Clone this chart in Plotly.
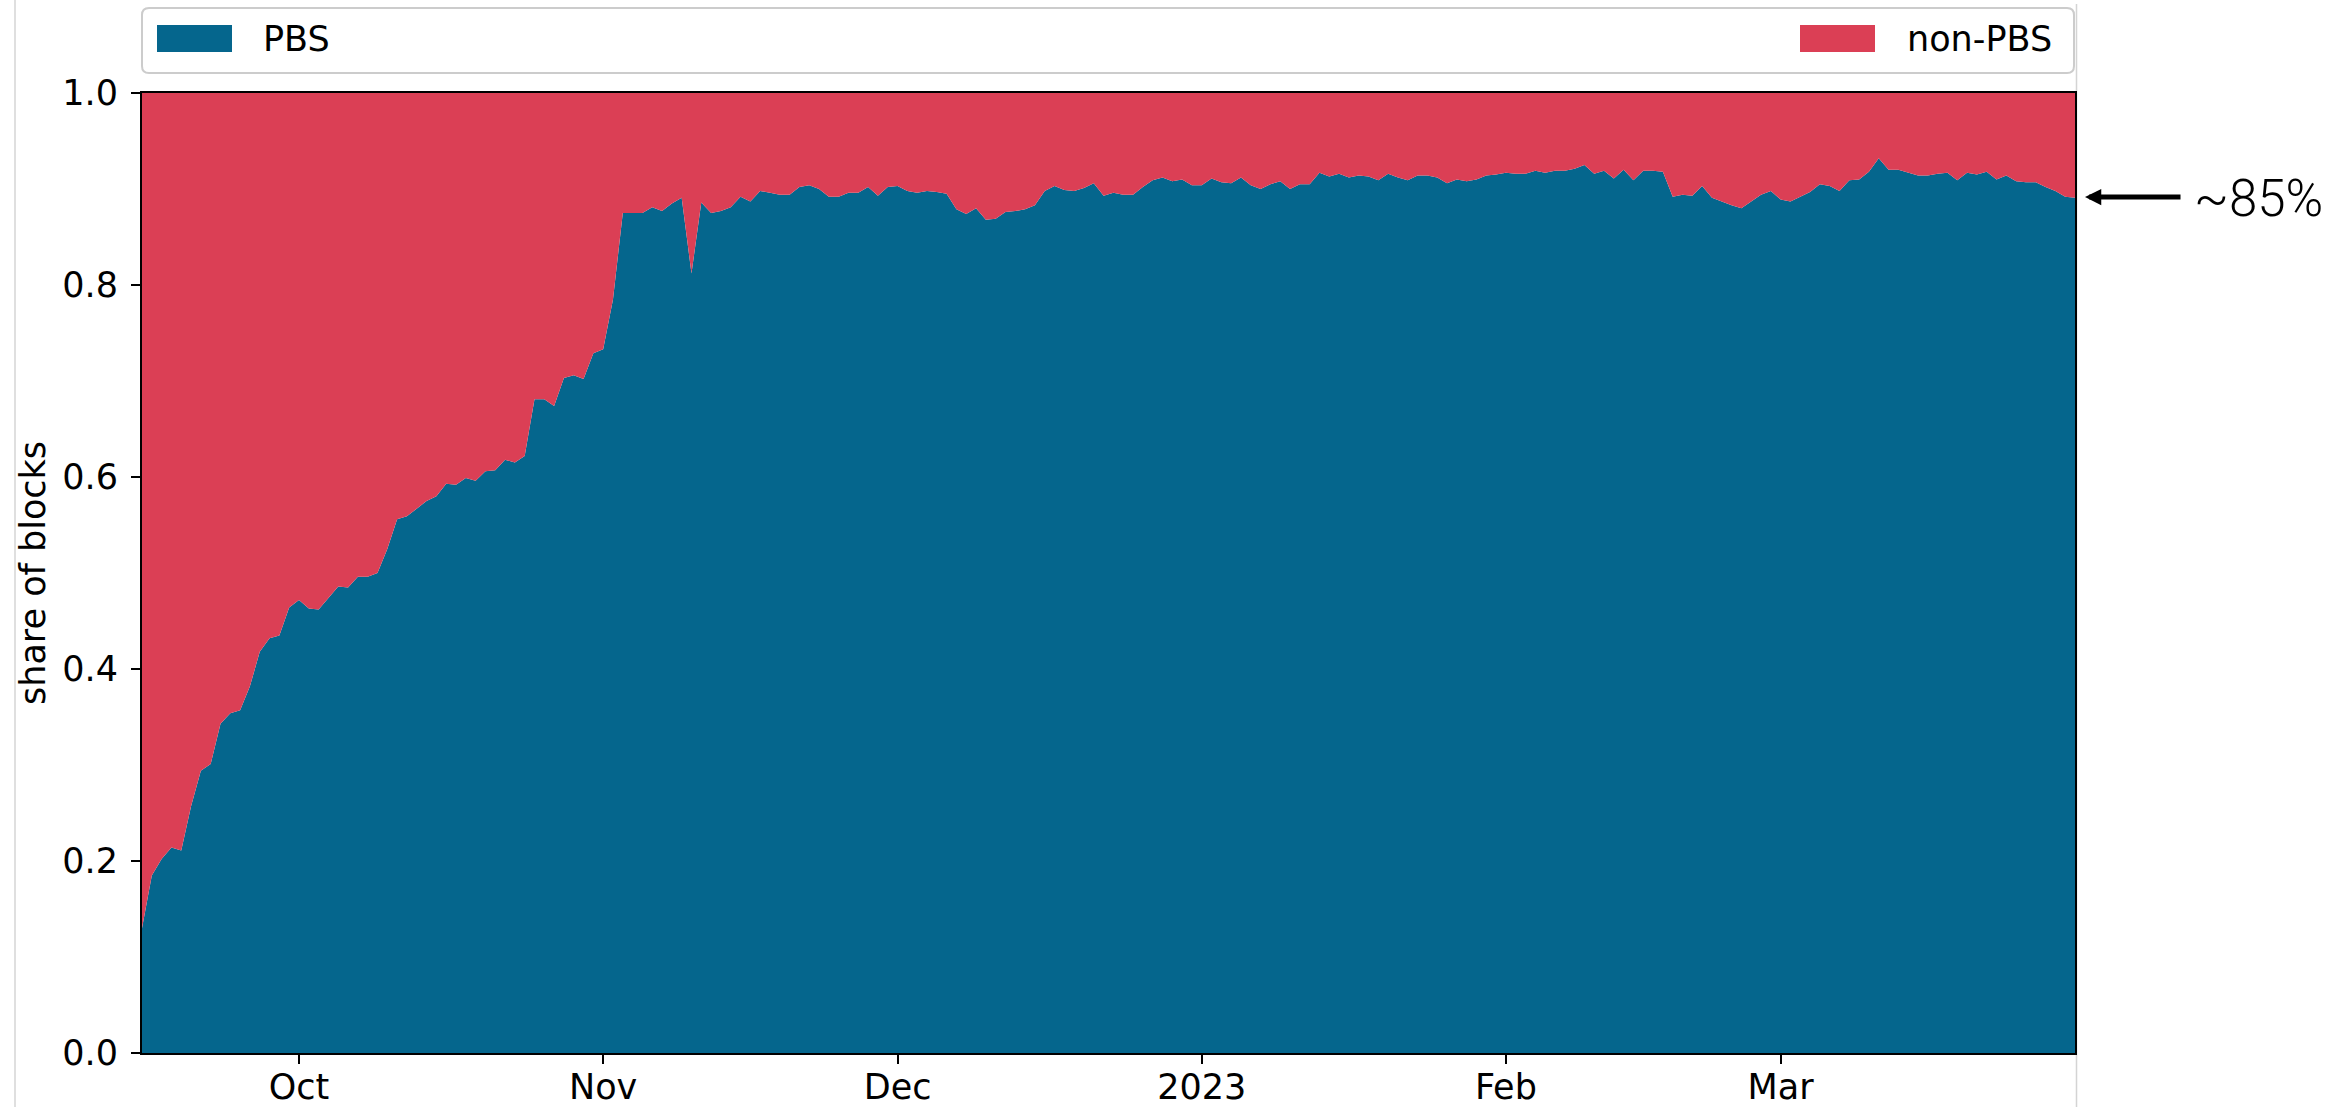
import datetime as dt
import plotly.graph_objects as go

# Daily share of blocks built through PBS (MEV-Boost relays), from the Merge onward
start_day = dt.date(2022, 9, 15)
pbs_share = [
    0.130, 0.185, 0.202, 0.214, 0.211, 0.257, 0.294, 0.301, 0.343, 0.354,
    0.357, 0.382, 0.418, 0.432, 0.435, 0.464, 0.472, 0.463, 0.462, 0.474,
    0.486, 0.485, 0.496, 0.496, 0.500, 0.525, 0.556, 0.559, 0.567, 0.575,
    0.580, 0.593, 0.592, 0.599, 0.596, 0.606, 0.607, 0.618, 0.615, 0.622,
    0.681, 0.681, 0.674, 0.703, 0.706, 0.702, 0.729, 0.733, 0.785, 0.875,
    0.875, 0.875, 0.881, 0.877, 0.885, 0.891, 0.812, 0.886, 0.875, 0.877,
    0.881, 0.892, 0.887, 0.898, 0.896, 0.894, 0.894, 0.902, 0.904, 0.900,
    0.892, 0.892, 0.896, 0.896, 0.902, 0.893, 0.902, 0.903, 0.898, 0.896,
    0.898, 0.897, 0.895, 0.879, 0.874, 0.880, 0.868, 0.869, 0.876, 0.877,
    0.879, 0.883, 0.898, 0.903, 0.899, 0.898, 0.901, 0.906, 0.893, 0.896,
    0.894, 0.894, 0.902, 0.909, 0.912, 0.908, 0.910, 0.904, 0.904, 0.911,
    0.907, 0.906, 0.912, 0.904, 0.900, 0.905, 0.908, 0.900, 0.905, 0.905,
    0.917, 0.913, 0.916, 0.912, 0.914, 0.913, 0.909, 0.916, 0.912, 0.909,
    0.914, 0.914, 0.912, 0.906, 0.910, 0.908, 0.910, 0.914, 0.915, 0.917,
    0.916, 0.916, 0.919, 0.917, 0.919, 0.919, 0.921, 0.925, 0.916, 0.919,
    0.911, 0.920, 0.909, 0.919, 0.919, 0.918, 0.892, 0.894, 0.893, 0.903,
    0.891, 0.887, 0.883, 0.880, 0.887, 0.894, 0.898, 0.889, 0.887, 0.892,
    0.897, 0.905, 0.903, 0.898, 0.909, 0.910, 0.918, 0.932, 0.920, 0.920,
    0.917, 0.914, 0.914, 0.916, 0.917, 0.909, 0.917, 0.915, 0.918, 0.910,
    0.914, 0.908, 0.907, 0.907, 0.902, 0.898, 0.892, 0.891,
]
days = [start_day + dt.timedelta(days=i) for i in range(len(pbs_share))]
non_pbs_share = [round(1.0 - v, 3) for v in pbs_share]

month_ticks = ["2022-10-01", "2022-11-01", "2022-12-01", "2023-01-01", "2023-02-01", "2023-03-01"]
month_labels = ["Oct", "Nov", "Dec", "2023", "Feb", "Mar"]
y_ticks = [0.0, 0.2, 0.4, 0.6, 0.8, 1.0]

series_names = ["PBS", "non-PBS"]
series_colors = ["#05668D", "#DB3F55"]
callout_text = "~85%"

W, H = 2336, 1107
M_L, M_R, M_T, M_B = 142, 261, 93, 54
PW, PH = W - M_L - M_R, H - M_T - M_B
FONT = "DejaVu Sans"


def px_x(x):
    return (x - M_L) / PW


def px_y(y):
    return (H - M_B - y) / PH


def rounded_box(x0, y0, x1, y1, r):
    """SVG path (paper units) for a rectangle with rounded corners, given in pixels."""
    rx, ry = r / PW, r / PH
    a, b, c, d = px_x(x0), px_x(x1), px_y(y0), px_y(y1)  # c = top, d = bottom
    return (
        f"M{a + rx},{c} L{b - rx},{c} Q{b},{c} {b},{c - ry} "
        f"L{b},{d + ry} Q{b},{d} {b - rx},{d} "
        f"L{a + rx},{d} Q{a},{d} {a},{d + ry} "
        f"L{a},{c - ry} Q{a},{c} {a + rx},{c} Z"
    )


fig = go.Figure()
for name, vals, col in zip(series_names, [pbs_share, non_pbs_share], series_colors):
    fig.add_trace(
        go.Scatter(
            x=days,
            y=vals,
            name=name,
            mode="lines",
            stackgroup="share",
            line=dict(width=0, color=col),
            fillcolor=col,
            hoverinfo="skip",
        )
    )

axis_common = dict(
    showline=True,
    linecolor="black",
    linewidth=2,
    mirror=True,
    showgrid=False,
    zeroline=False,
    ticks="outside",
    ticklen=9,
    tickwidth=2,
    tickcolor="black",
    tickfont=dict(family=FONT, size=35, color="black"),
)

fig.update_xaxes(
    type="date",
    range=[days[0], days[-1]],
    tickvals=month_ticks,
    ticktext=month_labels,
    ticklabelstandoff=-7,
    **axis_common,
)
fig.update_yaxes(
    range=[0, 1],
    tickvals=y_ticks,
    tickformat=".1f",
    ticklabelstandoff=6,
    **axis_common,
)

# Thin page frame lines at the left and right edges
shapes = [
    dict(
        type="line",
        xref="paper",
        yref="paper",
        x0=px_x(15),
        x1=px_x(15),
        y0=px_y(0),
        y1=px_y(H),
        line=dict(color="#D4D4D4", width=1.5),
        layer="below",
    ),
    dict(
        type="line",
        xref="paper",
        yref="paper",
        x0=px_x(2076.5),
        x1=px_x(2076.5),
        y0=px_y(4),
        y1=px_y(H),
        line=dict(color="#D4D4D4", width=1.5),
        layer="below",
    ),
    dict(
        type="path",
        xref="paper",
        yref="paper",
        path=rounded_box(142, 8, 2074, 73, 7),
        line=dict(color="#CCCCCC", width=2),
        fillcolor="white",
        layer="above",
    ),
]
annotations = [
    dict(
        text="share of blocks",
        xref="paper",
        yref="paper",
        x=px_x(33),
        y=0.5,
        textangle=-90,
        showarrow=False,
        xanchor="center",
        yanchor="middle",
        font=dict(family=FONT, size=35, color="black"),
    )
]

# Legend entries spread across the top of the axes
legend_slots = [(157, 263), (1800, 1907)]
for (patch_x, text_x), name, col in zip(legend_slots, series_names, series_colors):
    shapes.append(
        dict(
            type="rect",
            xref="paper",
            yref="paper",
            x0=px_x(patch_x),
            x1=px_x(patch_x + 75),
            y0=px_y(25),
            y1=px_y(52),
            line=dict(width=0),
            fillcolor=col,
            layer="above",
        )
    )
    annotations.append(
        dict(
            text=name,
            xref="paper",
            yref="paper",
            x=px_x(text_x),
            y=px_y(39),
            showarrow=False,
            xanchor="left",
            yanchor="middle",
            xshift=-2,
            font=dict(family=FONT, size=35, color="black"),
        )
    )

# Arrow pointing at the latest PBS share
arrow_y = px_y(197)
annotations.append(
    dict(
        text="",
        xref="paper",
        yref="paper",
        x=px_x(2085),
        y=arrow_y,
        ax=97,
        ay=0,
        showarrow=True,
        arrowhead=2,
        arrowsize=0.65,
        arrowwidth=5,
        arrowcolor="black",
    )
)
annotations.append(
    dict(
        text=callout_text,
        xref="paper",
        yref="paper",
        x=px_x(2192),
        y=arrow_y,
        showarrow=False,
        xanchor="left",
        yanchor="middle",
        yshift=-2,
        font=dict(family="Roboto", size=51, color="black", weight=300),
    )
)

fig.update_layout(
    width=W,
    height=H,
    margin=dict(l=M_L, r=M_R, t=M_T, b=M_B, autoexpand=False),
    paper_bgcolor="white",
    plot_bgcolor="white",
    showlegend=False,
    shapes=shapes,
    annotations=annotations,
    font=dict(family=FONT, size=35, color="black"),
)

fig.write_html("out.html", config={"displayModeBar": False})
